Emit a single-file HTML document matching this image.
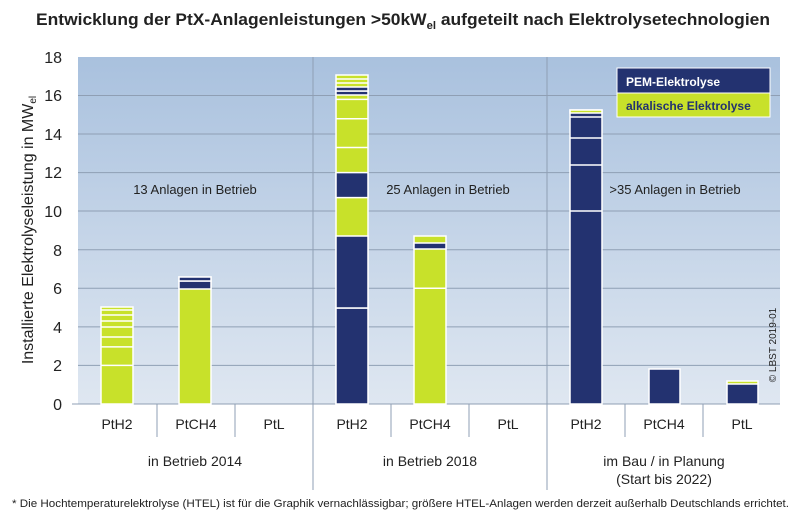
<!DOCTYPE html>
<html><head><meta charset="utf-8"><style>
body{margin:0;background:#fff;}
svg{display:block;font-family:"Liberation Sans",sans-serif;}
</style></head><body>
<svg width="800" height="517" xmlns="http://www.w3.org/2000/svg">
<defs><linearGradient id="bg" x1="0" y1="0" x2="0" y2="1">
<stop offset="0" stop-color="#a9c1de"/><stop offset="1" stop-color="#dfe7f1"/></linearGradient></defs>
<text x="36" y="25" textLength="734" lengthAdjust="spacingAndGlyphs" font-size="17" font-weight="bold" fill="#222">Entwicklung der PtX-Anlagenleistungen &gt;50kW<tspan font-size="11" dy="4">el</tspan><tspan dy="-4"> aufgeteilt nach Elektrolysetechnologien</tspan></text>
<rect x="78" y="57" width="702" height="347" fill="url(#bg)"/>
<g stroke="#8f9fb4" stroke-width="1">
<line x1="78" y1="95.5" x2="780" y2="95.5"/><line x1="78" y1="134" x2="780" y2="134"/>
<line x1="78" y1="172.6" x2="780" y2="172.6"/><line x1="78" y1="211" x2="780" y2="211"/>
<line x1="78" y1="249.8" x2="780" y2="249.8"/><line x1="78" y1="288.3" x2="780" y2="288.3"/>
<line x1="78" y1="326.9" x2="780" y2="326.9"/><line x1="78" y1="365.4" x2="780" y2="365.4"/>
</g>
<g stroke="#8f9fb4"><line x1="72" y1="404" x2="780" y2="404"/>
<line x1="313" y1="57" x2="313" y2="490"/><line x1="547" y1="57" x2="547" y2="490"/>
<line x1="157" y1="404" x2="157" y2="437"/><line x1="235" y1="404" x2="235" y2="437"/>
<line x1="391" y1="404" x2="391" y2="437"/><line x1="469" y1="404" x2="469" y2="437"/>
<line x1="625" y1="404" x2="625" y2="437"/><line x1="703" y1="404" x2="703" y2="437"/>
</g>
<g font-size="16" fill="#222" text-anchor="end">
<text x="62" y="63">18</text><text x="62" y="101">16</text><text x="62" y="140">14</text>
<text x="62" y="178">12</text><text x="62" y="217">10</text><text x="62" y="256">8</text>
<text x="62" y="294">6</text><text x="62" y="333">4</text><text x="62" y="371">2</text><text x="62" y="410">0</text>
</g>
<text transform="translate(33,230) rotate(-90)" text-anchor="middle" font-size="16" fill="#222">Installierte Elektrolyseleistung in MW<tspan font-size="10" dy="3">el</tspan></text>
<g font-size="13" fill="#222" text-anchor="middle">
<text x="195" y="194">13 Anlagen in Betrieb</text>
<text x="448" y="194">25 Anlagen in Betrieb</text>
<text x="675" y="194">&gt;35 Anlagen in Betrieb</text>
</g>
<g font-size="14" fill="#222" text-anchor="middle">
<text x="117" y="429">PtH2</text><text x="196" y="429">PtCH4</text><text x="274" y="429">PtL</text>
<text x="352" y="429">PtH2</text><text x="430" y="429">PtCH4</text><text x="508" y="429">PtL</text>
<text x="586" y="429">PtH2</text><text x="664" y="429">PtCH4</text><text x="742" y="429">PtL</text>
<text x="195" y="466">in Betrieb 2014</text><text x="430" y="466">in Betrieb 2018</text>
<text x="664" y="466">im Bau / in Planung</text><text x="664" y="484">(Start bis 2022)</text>
</g>
<text x="12" y="507" textLength="777" lengthAdjust="spacingAndGlyphs" font-size="11" fill="#222">* Die Hochtemperaturelektrolyse (HTEL)  ist für die Graphik vernachlässigbar; größere HTEL-Anlagen werden derzeit außerhalb Deutschlands errichtet.</text>
<text transform="translate(776,345) rotate(-90)" text-anchor="middle" font-size="10" fill="#222">© LBST 2019-01</text>
<g stroke="#fff" stroke-width="1.5">
<rect x="101" y="307" width="32" height="97" fill="#c8e12a"/>
<g><line x1="101" y1="365.4" x2="133" y2="365.4"/><line x1="101" y1="346.9" x2="133" y2="346.9"/><line x1="101" y1="337" x2="133" y2="337"/><line x1="101" y1="327" x2="133" y2="327"/><line x1="101" y1="321" x2="133" y2="321"/><line x1="101" y1="315" x2="133" y2="315"/><line x1="101" y1="310" x2="133" y2="310"/></g>
<rect x="179" y="277" width="32" height="127" fill="#c8e12a"/>
<rect x="179" y="281" width="32" height="8" fill="#233270"/>
<rect x="179" y="277" width="32" height="4" fill="#233270"/>
<rect x="336" y="75" width="32" height="329" fill="#c8e12a"/>
<rect x="336" y="308" width="32" height="96" fill="#233270"/>
<rect x="336" y="236" width="32" height="72" fill="#233270"/>
<rect x="336" y="172.6" width="32" height="25" fill="#233270"/>
<line x1="336" y1="147.5" x2="368" y2="147.5"/><line x1="336" y1="118.7" x2="368" y2="118.7"/><line x1="336" y1="99.4" x2="368" y2="99.4"/>
<rect x="336" y="91" width="32" height="4" fill="#233270"/>
<rect x="336" y="87" width="32" height="4" fill="#233270"/>
<line x1="336" y1="83" x2="368" y2="83"/><line x1="336" y1="79" x2="368" y2="79"/>
<rect x="414" y="236" width="32" height="168" fill="#c8e12a"/>
<line x1="414" y1="288.3" x2="446" y2="288.3"/>
<rect x="414" y="243" width="32" height="6" fill="#233270"/>
<rect x="570" y="110" width="32" height="294" fill="#233270"/>
<line x1="570" y1="211" x2="602" y2="211"/><line x1="570" y1="165" x2="602" y2="165"/><line x1="570" y1="138" x2="602" y2="138"/><line x1="570" y1="117" x2="602" y2="117"/>
<rect x="570" y="110" width="32" height="3" fill="#c8e12a"/>
<rect x="649" y="369" width="31" height="35" fill="#233270"/>
<rect x="727" y="383" width="31" height="21" fill="#233270"/>
<rect x="727" y="381" width="31" height="3" fill="#c8e12a"/>
</g>
<rect x="617" y="68" width="153" height="25" fill="#233270" stroke="#fff"/>
<rect x="617" y="93" width="153" height="24" fill="#c8e12a" stroke="#fff"/>
<text x="626" y="86" font-size="12" font-weight="bold" fill="#fff">PEM-Elektrolyse</text>
<text x="626" y="110" font-size="12" font-weight="bold" fill="#233270">alkalische Elektrolyse</text>
</svg>
</body></html>
